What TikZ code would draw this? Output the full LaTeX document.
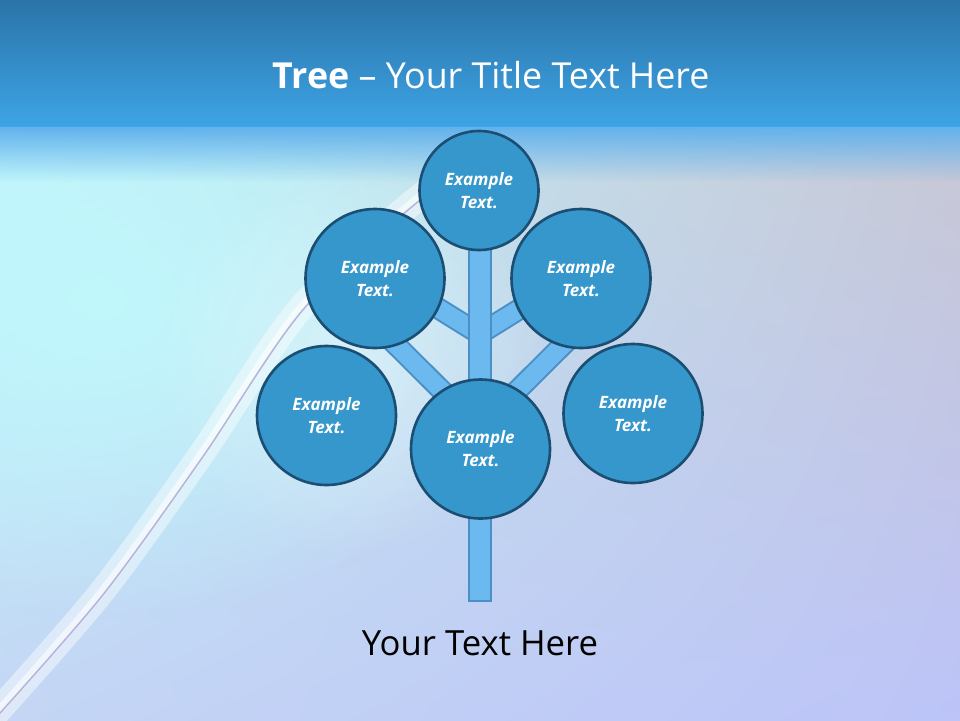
\documentclass[tikz,border=0pt]{standalone}
\usepackage{fontspec}
\setmainfont{Open Sans}
\usetikzlibrary{fadings,shadings}
\definecolor{hdtop}{HTML}{2A74A8}
\definecolor{hdbot}{HTML}{3EA4E6}
\definecolor{hdfade}{HTML}{62B2EC}
\definecolor{bgul}{HTML}{C0F6FC}
\definecolor{bgur}{HTML}{C8C8D4}
\definecolor{bgll}{HTML}{C4D6F4}
\definecolor{bglr}{HTML}{BCC4F8}
\definecolor{cyanglow}{HTML}{C0F8FC}
\definecolor{circfill}{HTML}{3597CB}
\definecolor{circline}{HTML}{1B4E72}
\definecolor{brfill}{HTML}{6BB9EE}
\definecolor{brline}{HTML}{4A8FC5}
\definecolor{streak}{HTML}{B4B6DC}
\tikzfading[name=glowfade, inner color=transparent!0, outer color=transparent!100]
\tikzfading[name=downfade, top color=transparent!0, bottom color=transparent!100]
\tikzset{
  leaf/.style={circle, fill=circfill, draw=circline, line width=2.6pt, inner sep=0pt,
    minimum size=139pt, text=white, align=center,
    font=\fontsize{17}{23}\selectfont\bfseries\itshape},
  topleaf/.style={leaf, minimum size=119pt},
  branchout/.style={draw=brline, line width=22pt},
  branchin/.style={draw=brfill, line width=18pt},
}
\begin{document}
\begin{tikzpicture}[x=1pt,y=-1pt]
\useasboundingbox (0,0) rectangle (960,720);
% background
\shade[upper left=bgul, upper right=bgur, lower left=bgll, lower right=bglr] (0,127) rectangle (960,720);
\fill[cyanglow, path fading=glowfade] (-350,-20) rectangle (550,620);
\fill[white, opacity=0.35, path fading=glowfade] (150,160) rectangle (550,560);
% streak
\draw[white, opacity=0.45, line width=26pt, line cap=round] plot[smooth] coordinates {(-10,720) (100,594) (200,456) (300,309) (417,199) (480,165)};
\draw[white, opacity=0.6, line width=8pt] plot[smooth] coordinates {(-10,720) (100,594) (200,456) (300,309) (417,199) (480,165)};
\draw[streak, line width=1.6pt] plot[smooth] coordinates {(-8,722) (102,596) (202,458) (302,311) (419,201) (482,167)};
% header
\shade[top color=hdtop, bottom color=hdbot] (0,0) rectangle (960,127);
\fill[hdfade, path fading=downfade] (-20,127) rectangle (980,182);
\node[text=white, font=\fontsize{35.8}{44}\selectfont] (title) at (491,75) {\textbf{Tree} – Your Title Text Here};
% tree skeleton
\coordinate (jup) at (479.5,334);
\coordinate (jlo) at (479.5,428);
\coordinate (eul) at (400,284.6);
\coordinate (eur) at (559,284.6);
\coordinate (ell) at (388,337);
\coordinate (elr) at (571,337);
\foreach \a/\b in {jup/eul, jup/eur, jlo/ell, jlo/elr}{
  \draw[branchout] (\a) -- (\b);
  \draw[branchin] (\a) -- (\b);
}
\draw[fill=brfill, draw=brline, line width=2pt] (468.5,245) rectangle (490.5,601) node[coordinate] (trunkbase) {};
% leaves
\node[topleaf] (top) at (479,190.5) {Example\\Text.};
\node[leaf] (ul) at (375,278.5) {Example\\Text.};
\node[leaf] (ur) at (581,278.5) {Example\\Text.};
\node[leaf] (ll) at (326.5,415.5) {Example\\Text.};
\node[leaf] (lr) at (633,413.5) {Example\\Text.};
\node[leaf] (mid) at (480.5,449) {Example\\Text.};
% caption
\node[text=black, font=\fontsize{34.7}{42}\selectfont] (caption) at (480,643) {Your Text Here};
\end{tikzpicture}
\end{document}
